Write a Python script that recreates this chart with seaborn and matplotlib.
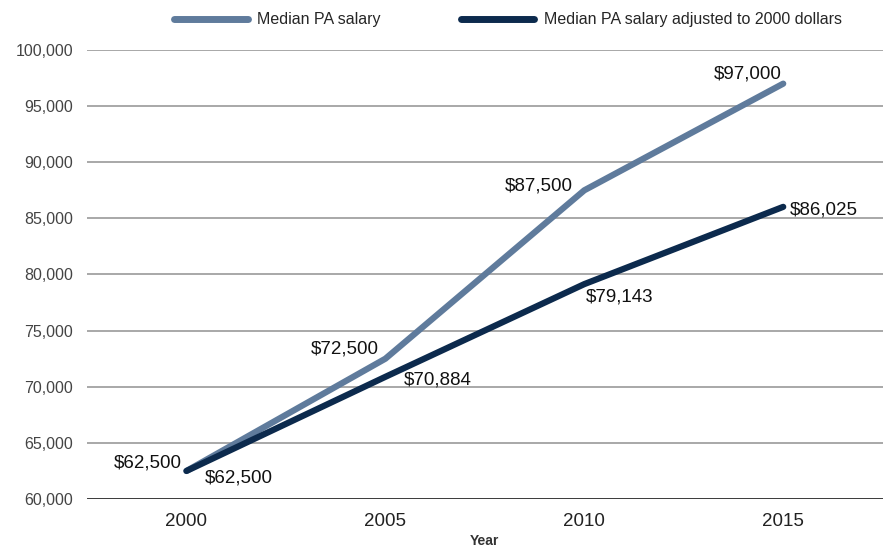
import pandas as pd
import seaborn as sns
import matplotlib.pyplot as plt
from matplotlib.ticker import FuncFormatter

# data
years = [2000, 2005, 2010, 2015]
median_salary = [62500, 72500, 87500, 97000]
median_adjusted = [62500, 70884, 79143, 86025]
series_names = ["Median PA salary", "Median PA salary adjusted to 2000 dollars"]

df = pd.DataFrame({
    "Year": years * 2,
    "Salary": median_salary + median_adjusted,
    "Series": [series_names[0]] * 4 + [series_names[1]] * 4,
})

sns.set_style("white")
plt.rcParams['font.family'] = ['Liberation Sans', 'DejaVu Sans']

fig = plt.figure(figsize=(8.88, 5.48), dpi=100)
ax = fig.add_axes([0.098, 0.0894, 0.896, 0.8194])

palette = {series_names[0]: "#5f7b9c", series_names[1]: "#0c2a4d"}
sns.lineplot(data=df, x="Year", y="Salary", hue="Series", palette=palette,
             linewidth=4.5, ax=ax, legend=False, solid_capstyle="round")

ax.set_xlim(1997.5, 2017.5)
ax.set_ylim(60000, 100000)
ax.set_yticks(range(60000, 100001, 5000))
ax.set_xticks(years)
ax.yaxis.set_major_formatter(FuncFormatter(lambda v, p: f"{int(v):,}"))
ax.grid(axis="y", color="#999999", linewidth=1.2)
ax.set_axisbelow(True)
for s in ["top", "right", "left", "bottom"]:
    ax.spines[s].set_visible(False)
ax.axhline(60000, color="#333333", linewidth=2, zorder=1)
ax.tick_params(axis="y", labelsize=11.5, colors="#444444", length=0, pad=10)
ax.tick_params(axis="x", labelsize=13.5, colors="#222222", length=0, pad=10)
ax.set_xlabel("Year", fontsize=10, fontweight="bold", color="#333333", labelpad=3)
ax.set_ylabel("")

# data labels (offsets in points)
fs = 13.5
lab_a = [(-3, 6, "right", "center"), (-5, 7, "right", "center"),
         (-8, 3, "right", "center"), (-1, 1, "right", "bottom")]
lab_b = [(13, -5, "left", "center"), (13, -2, "left", "center"),
         (1, -9, "left", "center"), (5, -2, "left", "center")]
for x, y, (dx, dy, ha, va) in zip(years, median_salary, lab_a):
    ax.annotate(f"${y:,}", (x, y), xytext=(dx, dy), textcoords="offset points",
                ha=ha, va=va, fontsize=fs, color="#111111")
for x, y, (dx, dy, ha, va) in zip(years, median_adjusted, lab_b):
    ax.annotate(f"${y:,}", (x, y), xytext=(dx, dy), textcoords="offset points",
                ha=ha, va=va, fontsize=fs, color="#111111")

# legend drawn at top
handles = [plt.Line2D([], [], color=palette[n], linewidth=5, solid_capstyle="round")
           for n in series_names]
fig.legend(handles, series_names, loc="upper center", bbox_to_anchor=(0.572, 1.004),
           ncol=2, frameon=False, fontsize=11.5, handlelength=4.6,
           columnspacing=5, handletextpad=0.6)

fig.savefig("out.png", dpi=100)
